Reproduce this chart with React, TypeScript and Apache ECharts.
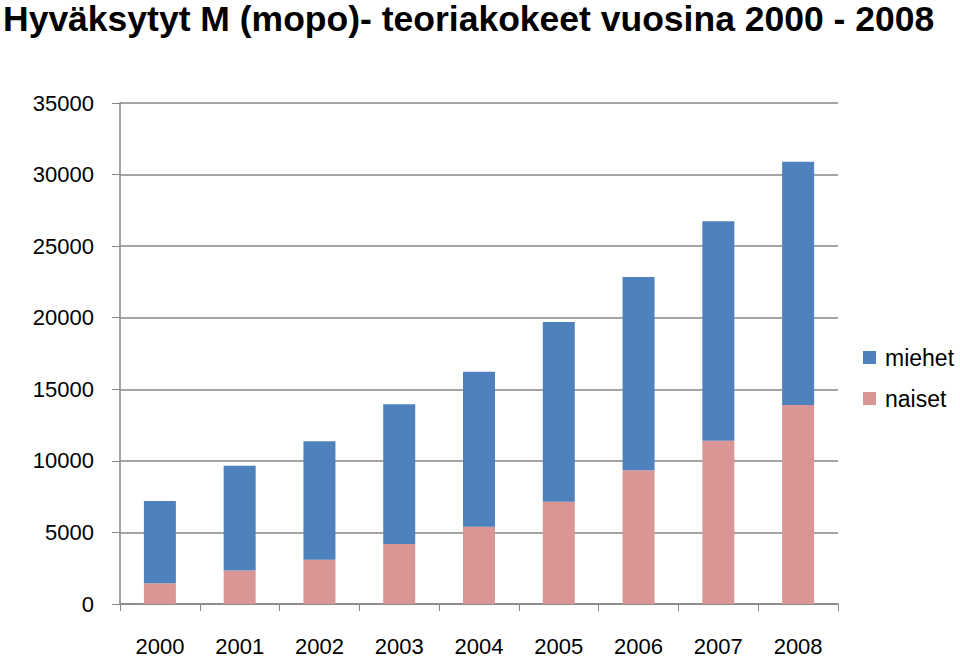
import React, { useEffect, useRef } from "react";
import * as echarts from "echarts";

const years = ["2000", "2001", "2002", "2003", "2004", "2005", "2006", "2007", "2008"];
const naiset = [1450, 2340, 3100, 4190, 5390, 7150, 9350, 11410, 13910];
const miehet = [5750, 7310, 8270, 9770, 10840, 12550, 13500, 15330, 16990];
const titleText = "Hyväksytyt M (mopo)- teoriakokeet vuosina 2000 - 2008";

export default function App() {
  const ref = useRef<HTMLDivElement>(null);
  useEffect(() => {
    const chart = echarts.init(ref.current!, null, { renderer: "svg" });
    const font = "Liberation Sans";
    chart.setOption({
      animation: false,
      backgroundColor: "#ffffff",
      title: {
        text: titleText,
        left: 3,
        top: 0,
        padding: 0,
        textStyle: { fontFamily: font, fontWeight: "bold", fontSize: 35.5, color: "#000", lineHeight: 38 },
      },
      legend: {
        orient: "vertical",
        left: 863,
        top: 346,
        padding: 0,
        itemWidth: 13,
        itemHeight: 13,
        itemGap: 18,
        icon: "rect",
        data: ["miehet", "naiset"],
        textStyle: { fontFamily: font, fontSize: 23, color: "#000", padding: [0, 0, 0, 4] },
      },
      grid: { left: 120, right: 122, top: 103, bottom: 50, containLabel: false },
      xAxis: {
        type: "category",
        data: years,
        axisLine: { lineStyle: { color: "#868686", width: 1.5 } },
        axisTick: { show: true, length: 7, alignWithLabel: false, lineStyle: { color: "#868686" } },
        axisLabel: { fontFamily: font, fontSize: 22, color: "#000", margin: 31 },
      },
      yAxis: {
        type: "value",
        min: 0,
        max: 35000,
        interval: 5000,
        axisLine: { show: true, lineStyle: { color: "#868686", width: 1.5 } },
        axisTick: { show: true, length: 8, lineStyle: { color: "#868686" } },
        splitLine: { lineStyle: { color: "#868686", width: 1.5 } },
        axisLabel: {
          fontFamily: font,
          fontSize: 22,
          color: "#000",
          margin: 26,
          formatter: (v: number) => String(v),
        },
      },
      series: [
        {
          name: "naiset",
          type: "bar",
          stack: "total",
          data: naiset,
          barWidth: 32,
          itemStyle: { color: "#D99694" },
        },
        {
          name: "miehet",
          type: "bar",
          stack: "total",
          data: miehet,
          barWidth: 32,
          itemStyle: { color: "#4F81BD" },
        },
      ],
    });
    return () => chart.dispose();
  }, []);
  return <div ref={ref} style={{ width: 960, height: 657, position: "absolute", left: 0, top: 0 }} />;
}
